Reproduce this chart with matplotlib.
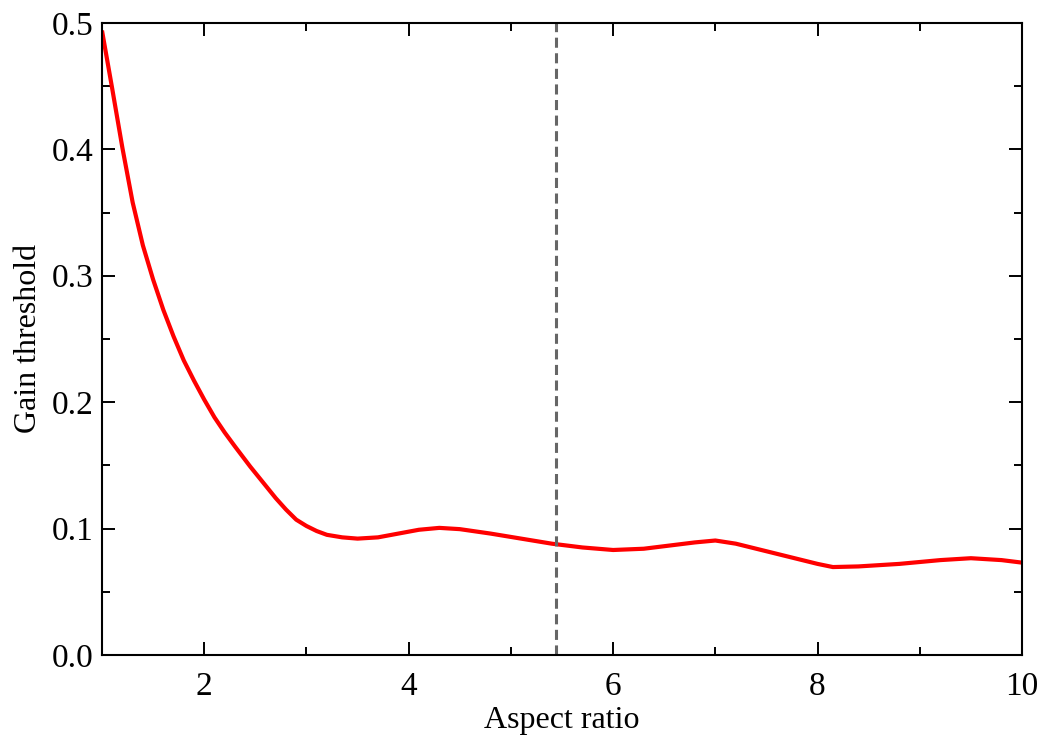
import matplotlib
matplotlib.use("Agg")
import matplotlib.pyplot as plt
from matplotlib.ticker import MultipleLocator

aspect_ratio = [1.0, 1.05, 1.1, 1.2, 1.3, 1.4, 1.5, 1.6, 1.7, 1.8, 1.9, 2.0, 2.1,
                2.2, 2.3, 2.45, 2.6, 2.7, 2.8, 2.9, 3.0, 3.1, 3.2, 3.35, 3.5, 3.7,
                3.9, 4.1, 4.3, 4.5, 4.8, 5.1, 5.4, 5.7, 6.0, 6.3, 6.6, 6.8, 7.0,
                7.2, 7.5, 7.8, 8.0, 8.15, 8.4, 8.8, 9.2, 9.5, 9.8, 10.0]
gain_threshold = [0.494, 0.471, 0.448, 0.401, 0.358, 0.324, 0.297, 0.273, 0.252,
                  0.233, 0.217, 0.202, 0.188, 0.176, 0.165, 0.149, 0.134, 0.124,
                  0.115, 0.107, 0.102, 0.098, 0.095, 0.093, 0.092, 0.093, 0.096,
                  0.099, 0.1005, 0.0995, 0.096, 0.092, 0.088, 0.085, 0.083, 0.084,
                  0.087, 0.089, 0.0905, 0.088, 0.082, 0.076, 0.072, 0.0695, 0.070,
                  0.072, 0.075, 0.0765, 0.075, 0.073]
marker_x = 5.44

plt.rcParams['font.family'] = ['Liberation Serif', 'DejaVu Serif']

fig = plt.figure(figsize=(10.45, 7.4), dpi=100)
ax = fig.add_axes([0.0976, 0.115, 0.8804, 0.854])
ax.plot(aspect_ratio, gain_threshold, color='#ff0000', lw=3.0,
        solid_joinstyle='round', solid_capstyle='butt')
ax.axvline(marker_x, color='#666666', ls=(0, (3.3, 1.8)), lw=2.2)

ax.set_xlim(1, 10)
ax.set_ylim(0, 0.5)
ax.xaxis.set_minor_locator(MultipleLocator(1))
ax.yaxis.set_minor_locator(MultipleLocator(0.05))
ax.set_xticks([2, 4, 6, 8, 10])
ax.set_yticks([0.0, 0.1, 0.2, 0.3, 0.4, 0.5])
ax.set_yticklabels(['0.0', '0.1', '0.2', '0.3', '0.4', '0.5'])
ax.tick_params(which='both', direction='in', top=True, right=True, width=1.4, labelsize=24)
ax.tick_params(which='major', length=9.5, pad=6)
ax.tick_params(which='minor', length=5.5)
ax.tick_params(axis='x', which='major', pad=12)
for s in ax.spines.values():
    s.set_linewidth(1.5)

ax.set_xlabel('Aspect ratio', fontsize=23, labelpad=3)
ax.set_ylabel('Gain threshold', fontsize=23, labelpad=6)

fig.savefig('out.png', dpi=100)
